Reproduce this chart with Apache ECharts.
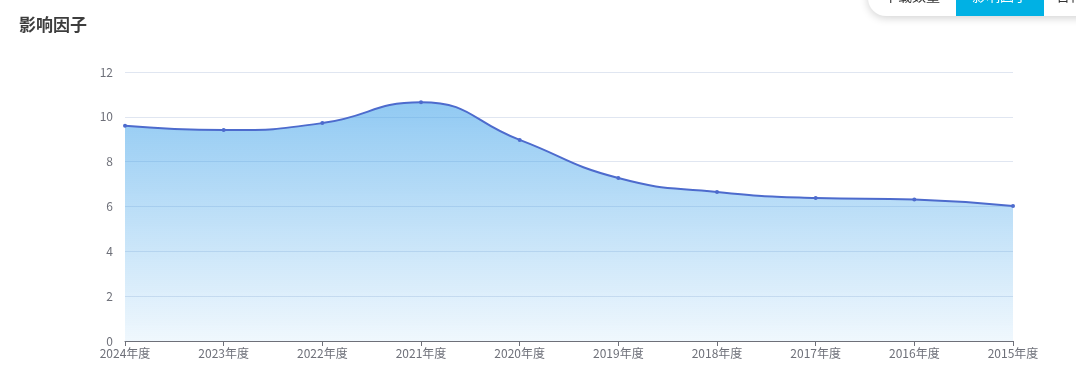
<!DOCTYPE html>
<html>
<head>
<meta charset="utf-8">
<script src="https://cdn.jsdelivr.net/npm/echarts@6/dist/echarts.min.js"></script>
<style>
  html, body { margin: 0; padding: 0; background: #fff; overflow: hidden; }
  body { width: 1076px; height: 378px; position: relative; font-family: "Noto Sans CJK SC", "Noto Sans", sans-serif; }
  .title { position: absolute; left: 19px; top: 11px; font-size: 17px; font-weight: bold; color: #3d3d3d; }
  .tabs { position: absolute; left: 868px; top: -22px; height: 38px; width: 270px; background: #fff;
          border-radius: 0 0 0 18px; box-shadow: 0 2px 8px rgba(0,0,0,0.18); display: flex; font-size: 14px; overflow: hidden; }
  .tabs div { line-height: 34px; text-align: center; color: #333; box-sizing: border-box; flex: none; }
  .tabs .on { background: #00b1e4; color: #fff; }
  #chart { position: absolute; left: 0; top: 0; width: 1076px; height: 378px; }
</style>
</head>
<body>
<div id="chart"></div>
<div class="title">影响因子</div>
<div class="tabs">
  <div style="width:88px">下载数量</div>
  <div class="on" style="width:88px">影响因子</div>
  <div style="width:94px;text-align:left;padding-left:12px">合作机构</div>
</div>
<script>
// 年度
var years = ['2024年度', '2023年度', '2022年度', '2021年度', '2020年度', '2019年度', '2018年度', '2017年度', '2016年度', '2015年度'];
// 影响因子
var factor = [9.6, 9.41, 9.72, 10.65, 8.97, 7.27, 6.65, 6.38, 6.31, 6.02];

var mychart = echarts.init(document.getElementById('chart'));
var option = {
    animation: false,
    textStyle: { fontFamily: '"Noto Sans CJK SC", sans-serif' },
    grid: { left: 125, right: 63, top: 72, bottom: 37 },
    xAxis: {
        type: 'category',
        data: years,
        boundaryGap: false,
        axisLine: { lineStyle: { color: '#6e7079' } },
        axisTick: { show: true, lineStyle: { color: '#6e7079' } },
        axisLabel: { color: '#6e7079', fontSize: 12, margin: 6, interval: 0 }
    },
    yAxis: {
        type: 'value',
        min: 0,
        max: 12,
        interval: 2,
        axisLabel: { color: '#6e7079', fontSize: 12, margin: 12 },
        splitLine: { lineStyle: { color: '#e0e6f1' } }
    },
    series: [{
        name: '影响因子',
        type: 'line',
        smooth: true,
        data: factor,
        symbol: 'circle',
        symbolSize: 4,
        itemStyle: { color: '#4d6bcd' },
        lineStyle: { color: '#4d6bcd', width: 2 },
        areaStyle: {
            opacity: 1,
            color: new echarts.graphic.LinearGradient(0, 0, 0, 1, [
                { offset: 0, color: 'rgba(59,160,233,0.56)' },
                { offset: 1, color: 'rgba(59,160,233,0.08)' }
            ])
        }
    }]
};
mychart.setOption(option);
</script>
</body>
</html>
